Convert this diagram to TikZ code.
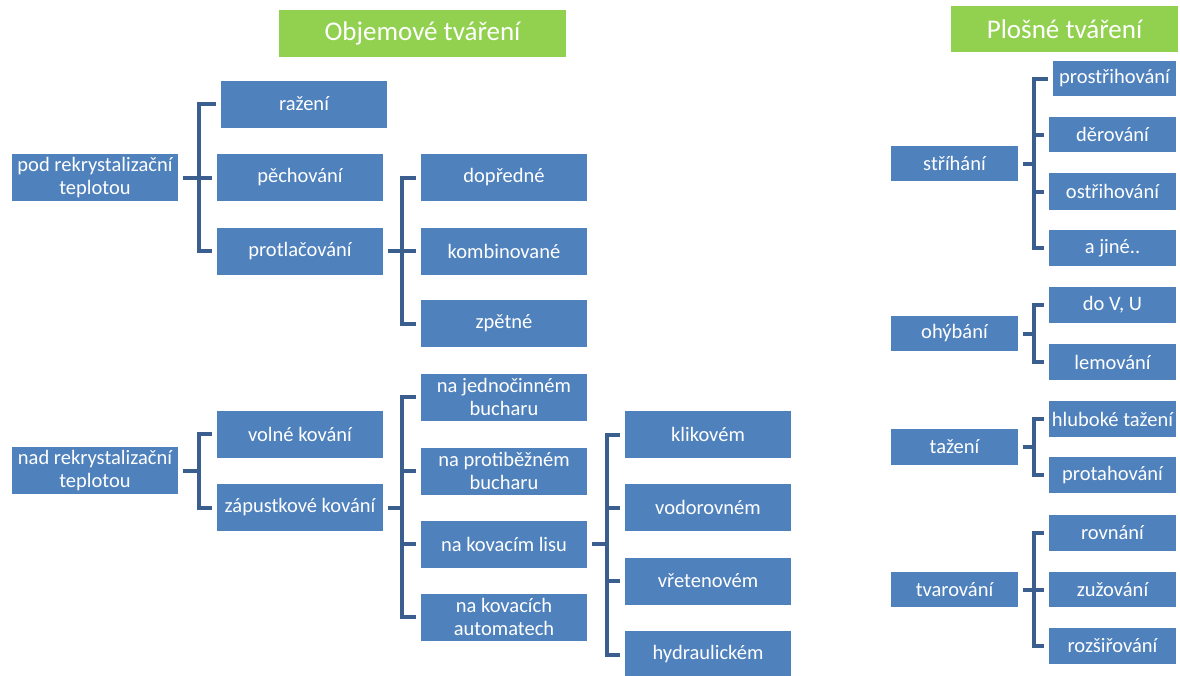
\documentclass[tikz,border=0pt]{standalone}
\usepackage{fontspec}
\setmainfont{Carlito}
\usetikzlibrary{calc}
\definecolor{boxblue}{HTML}{4F81BD}
\definecolor{brblue}{HTML}{3A5F8E}
\definecolor{titlegreen}{HTML}{92D050}
\tikzset{
  box/.style 2 args={fill=boxblue, text=white, inner sep=0pt, align=center,
    minimum width=#1, minimum height=#2, font=\fontsize{20.5}{23}\selectfont},
  lbox/.style={box={166}{47}},
  rbox/.style={box={127}{35}},
  title/.style 2 args={fill=titlegreen, text=white, inner sep=0pt,
    minimum width=#1, minimum height=#2, font=\fontsize{27}{30}\selectfont},
  br/.style={draw=brblue, line width=4pt, line join=miter},
}
\newcommand{\brk}[4]{% parent, first child, last child, x of vertical
  \coordinate (tmpv) at (#4,0);
  \draw[br, shorten <=5pt] (#1.east) -- (#1.east -| tmpv);
  \draw[br] ($(#2.west)+(-5,0)$) -- (#2.west -| tmpv) -- (#3.west -| tmpv) -- ($(#3.west)+(-5,0)$);
}
\newcommand{\tck}[2]{% child, x of vertical
  \coordinate (tmpv) at (#2,0);
  \draw[br] (#1.west -| tmpv) -- ($(#1.west)+(-5,0)$);
}
\begin{document}
\begin{tikzpicture}[x=1pt,y=-1pt]
\useasboundingbox (0,0) rectangle (1180,675);
\fill[white] (0,0) rectangle (1180,675);
% titles
\node[title={287}{47}] (t1) at (422.5,33.5) {Objemové tváření};
\node[title={227}{46}] (t2) at (1064.5,29) {Plošné tváření};
% left upper
\node[lbox] (pod) at (95,177.5) {pod rekrystalizační\\teplotou};
\node[lbox] (raz) at (304,104) {ražení};
\node[lbox] (pech) at (300,177.5) {pěchování};
\node[lbox] (protl) at (300,251) {protlačování};
\node[lbox] (dopr) at (504,177.5) {dopředné};
\node[lbox] (komb) at (504,251) {kombinované};
\node[lbox] (zpet) at (504,323.5) {zpětné};
% left lower
\node[lbox] (nad) at (95,470.5) {nad rekrystalizační\\teplotou};
\node[lbox] (voln) at (300,434) {volné kování};
\node[lbox] (zap) at (300,507.5) {zápustkové kování};
\node[lbox] (jedn) at (504,397) {na jednočinném\\bucharu};
\node[lbox] (protib) at (504,471) {na protiběžném\\bucharu};
\node[lbox] (lis) at (504,544) {na kovacím lisu};
\node[lbox] (aut) at (504,617) {na kovacích\\automatech};
\node[lbox] (klik) at (708,434.5) {klikovém};
\node[lbox] (vodo) at (708,507.5) {vodorovném};
\node[lbox] (vret) at (708,581) {vřetenovém};
\node[lbox] (hydr) at (708,654.5) {hydraulickém};
% right
\node[rbox] (stri) at (954.5,163.5) {stříhání};
\node[box={123}{35}] (prost) at (1114.5,78.5) {prostřihování};
\node[rbox] (dero) at (1112.5,134.5) {děrování};
\node[box={127}{37}] (ostr) at (1112.5,191.5) {ostřihování};
\node[box={127}{36}] (ajin) at (1112.5,248) {a jiné..};
\node[rbox] (ohyb) at (954.5,333.5) {ohýbání};
\node[box={127}{36}] (dovu) at (1112.5,305) {do V, U};
\node[box={127}{36}] (lemo) at (1112.5,362) {lemování};
\node[box={127}{36}] (taz) at (954.5,447) {tažení};
\node[box={127}{36}] (hlub) at (1112.5,419) {hluboké tažení};
\node[box={127}{36}] (prota) at (1112.5,475) {protahování};
\node[rbox] (tvar) at (954.5,589.5) {tvarování};
\node[box={127}{36}] (rovn) at (1112.5,533) {rovnání};
\node[rbox] (zuz) at (1112.5,589.5) {zužování};
\node[box={127}{36}] (rozs) at (1112.5,646) {rozšiřování};
% brackets
\brk{pod}{raz}{protl}{199}
\tck{pech}{199}
\brk{protl}{dopr}{zpet}{402}
\tck{komb}{402}
\brk{nad}{voln}{zap}{199}
\brk{zap}{jedn}{aut}{402}
\tck{protib}{402}
\tck{lis}{402}
\brk{lis}{klik}{hydr}{607}
\tck{vodo}{607}
\tck{vret}{607}
\brk{stri}{prost}{ajin}{1034}
\tck{dero}{1034}
\tck{ostr}{1034}
\brk{ohyb}{dovu}{lemo}{1034}
\brk{taz}{hlub}{prota}{1034}
\brk{tvar}{rovn}{rozs}{1034}
\tck{zuz}{1034}
\end{tikzpicture}
\end{document}
